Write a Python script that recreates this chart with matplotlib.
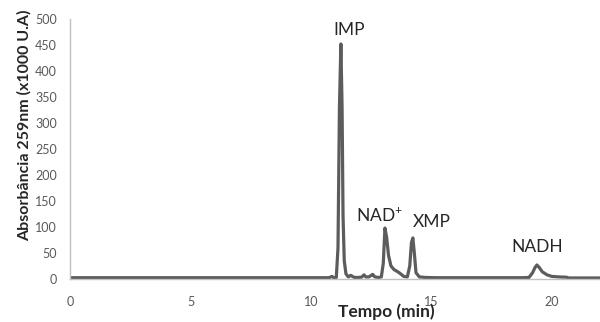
"""Chromatogram: IMP, NAD+, XMP and NADH peaks."""

import matplotlib

matplotlib.use("Agg")

import matplotlib.pyplot as plt

# time (min) and absorbance (x1000 U.A.)
tempo = [
    0.0, 7.0, 10.75, 10.87, 10.95, 11.05, 11.12, 11.18, 11.24, 11.29,
    11.33, 11.38, 11.45, 11.55, 11.65, 11.72, 11.8, 11.95, 12.1, 12.2,
    12.28, 12.4, 12.5, 12.56, 12.65, 12.8, 12.92, 13.0, 13.07, 13.14,
    13.22, 13.32, 13.45, 13.6, 13.72, 13.85, 14.0, 14.1, 14.17, 14.23,
    14.29, 14.36, 14.5, 14.75, 15.2, 18.8, 19.05, 19.2, 19.3, 19.38,
    19.48, 19.6, 19.8, 20.0, 20.3, 20.6, 20.7, 22.0,
]
absorbancia = [
    2.5, 2.5, 2.5, 5.0, 2.5, 3.0, 60.0, 330.0, 452.0, 330.0,
    120.0, 35.0, 10.0, 4.0, 7.0, 5.0, 3.0, 3.0, 3.5, 8.0,
    4.0, 4.0, 7.0, 9.0, 4.0, 3.0, 4.0, 30.0, 98.0, 80.0,
    45.0, 25.0, 18.0, 14.0, 10.0, 5.0, 4.0, 25.0, 70.0, 79.0,
    50.0, 12.0, 4.0, 3.0, 2.5, 2.5, 3.0, 12.0, 22.0, 27.0,
    22.0, 14.0, 8.0, 5.0, 4.0, 3.5, 2.0, 2.0,
]

picos = ["IMP", "NAD$^{+}$", "XMP", "NADH"]
picos_x = [11.6, 12.85, 15.0, 19.4]
picos_y = [479, 123, 110, 62]

x_ticks = [0, 5, 10, 15, 20]
y_ticks = list(range(0, 501, 50))

plt.rcParams["font.family"] = ["Lato", "DejaVu Sans"]
plt.rcParams["mathtext.fontset"] = "custom"
plt.rcParams["mathtext.rm"] = "Lato"
plt.rcParams["mathtext.default"] = "regular"

fig = plt.figure(figsize=(6.0, 3.22), dpi=100)
ax = fig.add_axes([0.117, 0.1335, 0.883, 0.8075])

ax.plot(tempo, absorbancia, color="#5c5c5c", linewidth=2.3, solid_joinstyle="round")

for nome, px, py in zip(picos, picos_x, picos_y):
    ax.text(px, py, nome, ha="center", va="center", fontsize=12.5, color="#262626")

ax.set_xlim(0, 22)
ax.set_ylim(0, 500)
ax.set_xticks(x_ticks)
ax.set_yticks(y_ticks)
ax.tick_params(axis="both", length=0, labelsize=9, labelcolor="#595959")
ax.tick_params(axis="x", pad=12.5)
ax.tick_params(axis="y", pad=9.5)

for side in ("top", "right"):
    ax.spines[side].set_visible(False)
for side in ("left", "bottom"):
    ax.spines[side].set_color("#c0c0c0")
    ax.spines[side].set_linewidth(1.0)

ax.set_xlabel("Tempo (min)", fontsize=12.5, fontweight="bold", color="#262626")
ax.xaxis.set_label_coords(0.596, -0.124)
ax.xaxis.label.set_va("center")
ax.set_ylabel("Absorbância 259nm (x1000 U.A)", fontsize=11.5, fontweight="bold", color="#262626")
ax.yaxis.set_label_coords(-0.087, 0.59)
ax.yaxis.label.set_va("center")

fig.savefig("out.png", dpi=100)
plt.close(fig)
